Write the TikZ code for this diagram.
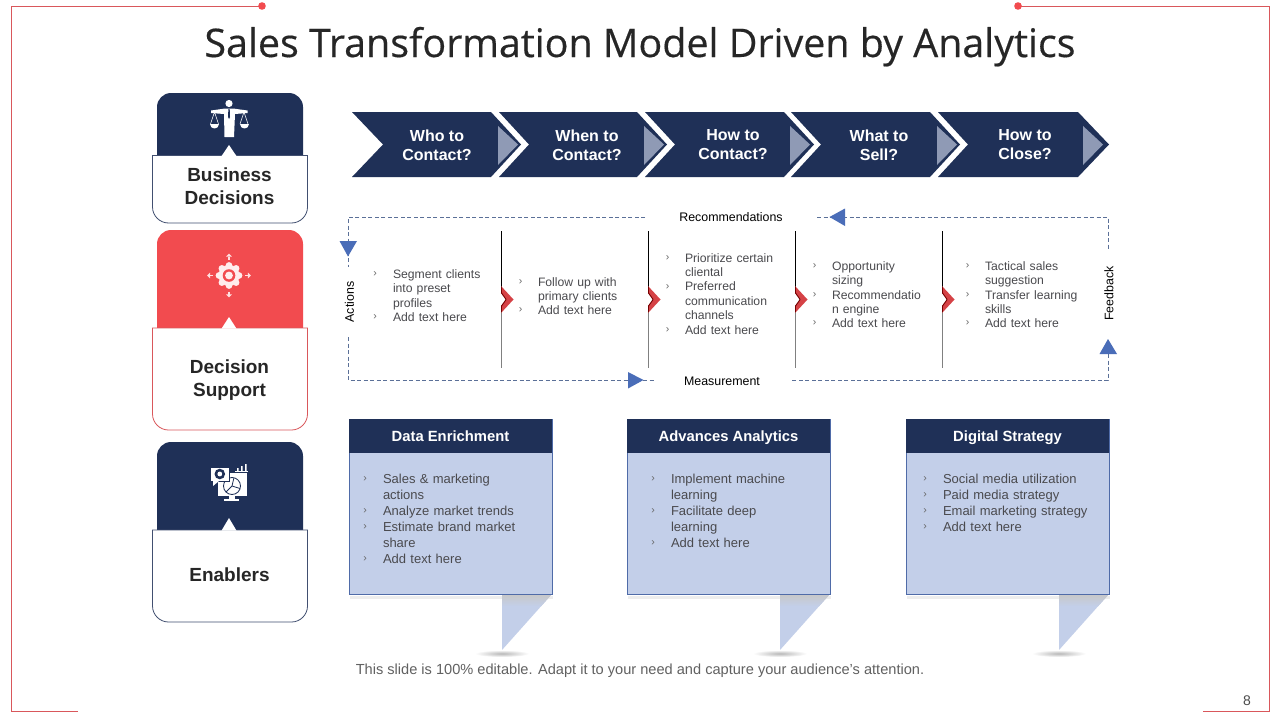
\documentclass[tikz,border=0pt]{standalone}
\usepackage{fontspec}
\setmainfont{Liberation Sans}
\newfontfamily\titlefont[FakeBold=0.4]{Open Sans}
\usetikzlibrary{shadings}
\definecolor{navy}{HTML}{1F3057}
\definecolor{redfill}{HTML}{F24B4F}
\definecolor{redline}{HTML}{D9575B}
\definecolor{lightblue}{HTML}{C3CFE9}
\definecolor{boxedge}{HTML}{4F6BA8}
\definecolor{tri}{HTML}{4A6DB8}
\definecolor{slate}{HTML}{8F9AB5}
\definecolor{dash}{HTML}{5B7098}
\definecolor{bodytext}{HTML}{4A4A4E}
\tikzset{
  x=1pt,y=-1pt,
  every node/.style={inner sep=0pt,outer sep=0pt},
  framepart/.style={draw=redline,line width=0.9pt},
  chev/.style={fill=navy},
  chevtext/.style={text=white,font=\fontsize{16}{19}\selectfont\bfseries,align=center},
  grayarrow/.style={fill=slate},
  dashline/.style={draw=dash,line width=0.8pt,dash pattern=on 4pt off 2.5pt},
  triangleblue/.style={fill=tri},
  looplabel/.style={text=black,font=\fontsize{12.4}{14}\selectfont},
  itemtext/.style={text=bodytext,font=\fontsize{12.2}{14.4}\selectfont,align=left,anchor=north west,text width=110pt,execute at begin node=\strut},
  bluetext/.style={text=bodytext,font=\fontsize{13}{16}\selectfont,align=left,anchor=north west,text width=155pt,execute at begin node=\strut},
  bullet/.style={text=black!60,font=\fontsize{10.5}{12}\selectfont},
  panellabel/.style={text=black!85,font=\fontsize{19}{23}\selectfont\bfseries,align=center},
  paneledge/.style={fill=white,line width=0.8pt},
  headertext/.style={text=white,font=\fontsize{14.8}{17}\selectfont\bfseries,anchor=base},
  redchev/.style={fill=redfill!88!black},
}
\newcommand{\listitem}[4]{% bullet x, text x, first-line y, text
  \node[bullet] at (#1,#3+1) {›};
  \node[itemtext] at (#2,#3-5.3) {#4};
}
\newcommand{\blueitem}[4]{%
  \node[bullet] at (#1,#3+1) {›};
  \node[bluetext] at (#2,#3-6.3) {#4};
}
\newcommand{\panel}[6]{% top, split, bottom, apex, fill, edge
  \fill[#5] (157,#2+1) -- (157,#1+14) .. controls (157,#1+6.3) and (163.3,#1) .. (171,#1) -- (289,#1) .. controls (296.7,#1) and (303,#1+6.3) .. (303,#1+14) -- (303,#2+1) -- cycle;
  \draw[paneledge,draw=#6] (152.5,#2) -- (152.5,#3-16) .. controls (152.5,#3-7.2) and (159.7,#3) .. (168.5,#3) -- (291.5,#3) .. controls (300.3,#3) and (307.5,#3-7.2) .. (307.5,#3-16) -- (307.5,#2) -- cycle;
  \fill[white] (221.5,#2+0.6) -- (229,#4) -- (236.5,#2+0.6) -- cycle;
}
\newcommand{\chevron}[4]{% left top x, notch x, right top x, tip x
  \fill[chev] (#1,112) -- (#3,112) -- (#4,144.5) -- (#3,177) -- (#1,177) -- (#2,144.5) -- cycle;
}
\newcommand{\divider}[1]{%
  \draw[black,line width=1.1pt] (#1,231) -- (#1,293);
  \draw[black!50,line width=1.4pt] (#1,306) -- (#1,368);
  \fill[redchev] (#1-0.5,286) -- (#1+12,299.5) -- (#1-0.5,313) -- (#1-0.5,306) -- (#1+5,299.5) -- (#1-0.5,293) -- cycle;
  \draw[black!55!red,line width=0.9pt] (#1,287) -- (#1,293) -- (#1+4.6,299.5) -- (#1,306) -- (#1,312);
}
\newcommand{\bluebox}[3]{% left x, name, title
  \fill[black!7] (#1+1,596) rectangle (#1+204,598.5);
  \fill[lightblue] (#1+153,594) -- (#1+203,594) -- (#1+153,650) -- cycle;
  \shade[top color=black!22,bottom color=lightblue] (#1+153,594) -- (#1+203,594) -- (#1+192.3,606) -- (#1+153,606) -- cycle;
  \shade[inner color=black!28,outer color=white,draw=none] (#1+153,653.5) ellipse[x radius=27,y radius=3.5];
  \draw[fill=lightblue,draw=boxedge,line width=0.9pt] (#1,419.5) rectangle (#1+203,594);
  \fill[navy] (#1,419) rectangle (#1+203,453);
  \node[headertext] (#2) at (#1+101.5,441) {#3};
}
\begin{document}
\begin{tikzpicture}
\useasboundingbox (0,0) rectangle (1280,720);
\fill[white] (0,0) rectangle (1280,720);
% frame
\coordinate (ftl) at (11,6);\coordinate (ftr) at (1269,6);\coordinate (fbl) at (11,711);\coordinate (fbr) at (1269,711);
\coordinate (dl) at (262,6);\coordinate (dr) at (1018,6);\coordinate (el) at (78,711);\coordinate (er) at (1203,711);
\draw[framepart] (dl) -- (ftl) -- (fbl) -- (el);
\draw[framepart] (dr) -- (ftr) -- (fbr) -- (er);
\fill[redfill] (dl) circle (3.8);
\fill[redfill] (dr) circle (3.8);
\node[text=black!85,font=\titlefont\fontsize{39.4}{48}\selectfont,anchor=base] (title) at (640,57) {Sales Transformation Model Driven by Analytics};
% left panels
\panel{93}{155.5}{223}{145}{navy}{navy!85}
\node[panellabel] (pl1) at (229.5,186) {Business\\Decisions};
\panel{230}{328}{430}{317}{redfill}{redline}
\node[panellabel] (pl2) at (229.5,380.5) {Decision\\Support};
\panel{442}{530}{622}{518}{navy}{navy!85}
\node[panellabel] (pl3) at (229.5,574.5) {Enablers};
% icon 1: scales man
\begin{scope}
  \fill[white] (229,103.5) circle (3.6);
  \fill[white] (211,110.5) -- (225,108.5) -- (233,108.5) -- (247.5,110.5) -- (247.5,113) -- (235,114) -- (234,137) -- (224.5,137) -- (224,114) -- (211,113) -- cycle;
  \fill[navy] (228.4,109) -- (229.7,109) -- (230,117) -- (229,119) -- (228,117) -- cycle;
  \draw[white,line width=0.5pt] (214.5,112) -- (210.5,124) (214.5,112) -- (218.5,124) (244,112) -- (240,124) (244,112) -- (248,124);
  \fill[white] (210,124) .. controls (210,130) and (219,130) .. (219,124) -- cycle;
  \fill[white] (239.5,124) .. controls (239.5,130) and (248.5,130) .. (248.5,124) -- cycle;
\end{scope}
% icon 2: gear with arrows
\begin{scope}
  \foreach \a in {0,45,...,315} \fill[white!93!red] (229,275.5) ++(\a:10) circle (3.4);
  \fill[white!93!red] (229,275.5) circle (10.5);
  \fill[redfill] (229,275.5) circle (6.3);
  \fill[white!93!red] (229,275.5) circle (3.9);
  \foreach \a in {0,90,180,270} {
    \draw[white!88!red,line width=1.5pt] (229,275.5) ++(\a:16) -- ++(\a:3);
    \fill[white!88!red] (229,275.5) ++(\a:21.8) -- ++(\a+135:4.2) -- ++(\a-90:5.9) -- cycle;
  }
\end{scope}
% icon 3: monitor, pie, gear bubble
\begin{scope}
  \fill[white] (218,473) rectangle (247,496);
  \fill[white] (229,496) rectangle (235,499.5);
  \fill[white] (224,499) rectangle (239,501);
  \draw[navy,line width=0.8pt,fill=white] (232,486) circle (8.5);
  \draw[navy,line width=0.8pt] (232,486) -- (234,477.6) (232,486) -- (240,488.5) (232,486) -- (226,492);
  \draw[white,line width=0.6pt] (235,471) -- (248,471);
  \fill[white] (237,468) rectangle (238.5,471) (241,466) rectangle (242.5,471) (245,464) rectangle (246.5,471);
  \draw[navy,line width=0.8pt,fill=white] (210.5,467) rectangle (229,481);
  \fill[white] (213,481) -- (219,481) -- (213,486) -- cycle;
  \fill[navy] (219.8,474) circle (5.3);
  \fill[white] (219.8,474) circle (2.4);
\end{scope}
% chevrons
\chevron{352}{383}{491}{521}
\chevron{499}{529}{637}{667}
\chevron{645}{675}{784}{814}
\chevron{791}{821}{930}{960}
\chevron{938}{968}{1078}{1109}
\foreach \x in {498,644,790,937,1083}
  \fill[grayarrow] (\x,126) -- (\x+20,144.5) -- (\x,165) -- cycle;
\node[chevtext] (c1) at (437,145) {Who to\\Contact?};
\node[chevtext] (c2) at (587,145) {When to\\Contact?};
\node[chevtext] (c3) at (733,145) {How to\\Contact?};
\node[chevtext] (c4) at (879,145) {What to\\Sell?};
\node[chevtext] (c5) at (1025,145) {How to\\Close?};
% loop labels
\node[looplabel] (rec) at (731,217) {Recommendations};
\node[looplabel] (mea) at (722,381) {Measurement};
\node[looplabel,rotate=90] (act) at (349.5,302) {Actions};
\node[looplabel,rotate=90] (fee) at (1109,293.5) {Feedback};
% loop lines
\coordinate (tl) at (348,217);\coordinate (tr) at (1108,217);\coordinate (bl) at (348,380);\coordinate (br) at (1108,380);
\draw[dashline] (645,217) -- (tl) -- (348,267);
\draw[dashline] (348,337) -- (bl) -- (655,380);
\draw[dashline] (817,217) -- (tr) -- (1108,250);
\draw[dashline] (1108,354) -- (br) -- (790,380);
\fill[triangleblue] (339.5,241) -- (357,241) -- (348,256.5) -- cycle;
\fill[triangleblue] (628,372) -- (643.5,380) -- (628,388.5) -- cycle;
\fill[triangleblue] (845,208.5) -- (845,226) -- (829.5,217) -- cycle;
\fill[triangleblue] (1099.5,354) -- (1117,354) -- (1108,339) -- cycle;
% dividers
\divider{501.5}\divider{648.5}\divider{795.5}\divider{942.5}
% step lists
\listitem{375}{393}{273.5}{Segment clients\\into preset\\profiles}
\listitem{375}{393}{316.5}{Add text here}
\listitem{520.5}{538}{281.5}{Follow up with\\primary clients}
\listitem{520.5}{538}{309.5}{Add text here}
\listitem{667.5}{685}{257.5}{Prioritize certain\\cliental}
\listitem{667.5}{685}{286}{Preferred\\communication\\channels}
\listitem{667.5}{685}{329.5}{Add text here}
\listitem{814.5}{832}{265.5}{Opportunity\\sizing}
\listitem{814.5}{832}{294.5}{Recommendatio\\n engine}
\listitem{814.5}{832}{322.5}{Add text here}
\listitem{967.5}{985}{265.5}{Tactical sales\\suggestion}
\listitem{967.5}{985}{294.5}{Transfer learning\\skills}
\listitem{967.5}{985}{322.5}{Add text here}
% blue boxes
\bluebox{349}{h1}{Data Enrichment}
\bluebox{627}{h2}{Advances Analytics}
\bluebox{906}{h3}{Digital Strategy}
\blueitem{365}{383}{478.5}{Sales \& marketing\\actions}
\blueitem{365}{383}{510.5}{Analyze market trends}
\blueitem{365}{383}{526.5}{Estimate brand market\\share}
\blueitem{365}{383}{558.5}{Add text here}
\blueitem{653}{671}{478.5}{Implement machine\\learning}
\blueitem{653}{671}{510.5}{Facilitate deep\\learning}
\blueitem{653}{671}{542.5}{Add text here}
\blueitem{925}{943}{478.5}{Social media utilization}
\blueitem{925}{943}{494.5}{Paid media strategy}
\blueitem{925}{943}{510.5}{Email marketing strategy}
\blueitem{925}{943}{526.5}{Add text here}
% footer
\node[text=black!62,font=\fontsize{14.6}{17}\selectfont] (foot) at (640,671) {This slide is 100\% editable. Adapt it to your need and capture your audience’s attention.};
\node[text=black!70,font=\fontsize{14}{17}\selectfont] (page) at (1247,700.5) {8};
\end{tikzpicture}
\end{document}
